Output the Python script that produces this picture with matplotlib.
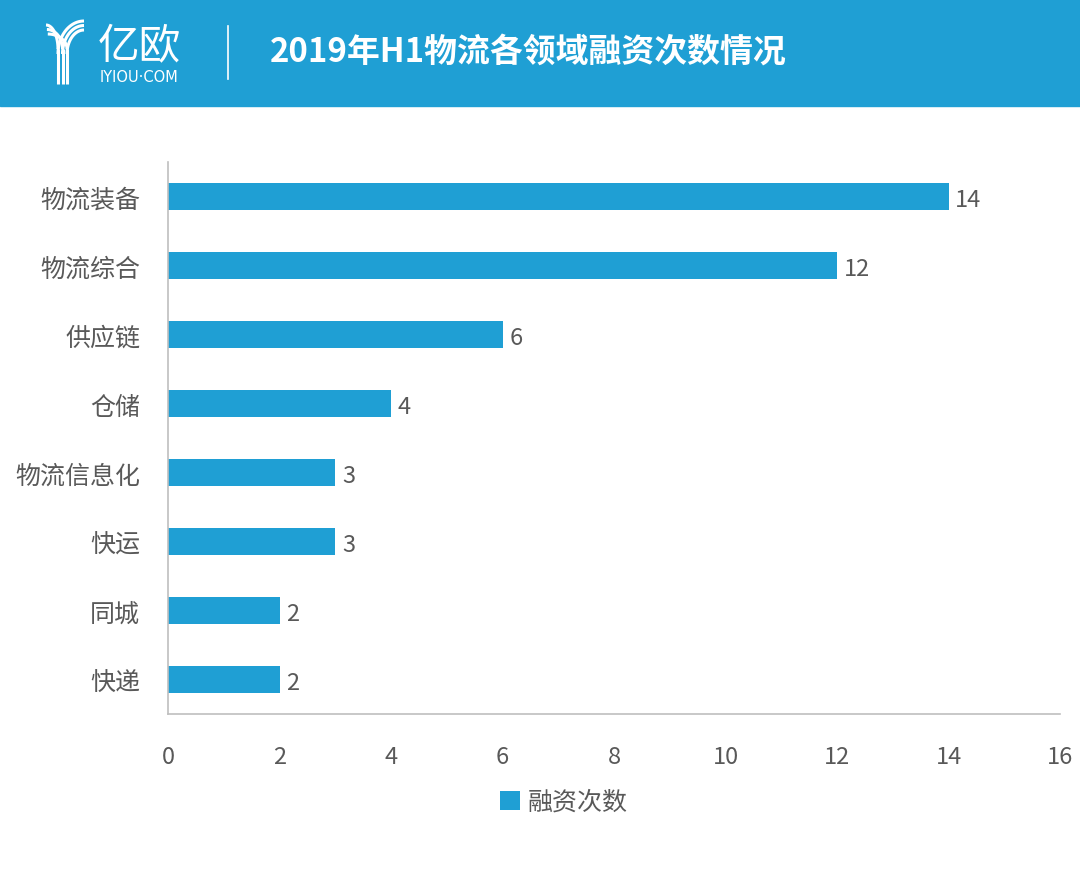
# -*- coding: utf-8 -*-
import numpy as np
import matplotlib
matplotlib.use("Agg")
import matplotlib.pyplot as plt
from matplotlib.patches import Rectangle

plt.rcParams['font.family'] = ['Noto Sans CJK SC', 'DejaVu Sans']

# data
categories = ["物流装备", "物流综合", "供应链", "仓储", "物流信息化", "快运", "同城", "快递"]
counts = [14, 12, 6, 4, 3, 3, 2, 2]
xticks = [0, 2, 4, 6, 8, 10, 12, 14, 16]
title = "2019年H1物流各领域融资次数情况"
series_name = "融资次数"

blue = "#1f9fd4"
txt = "#595959"

W, H = 1080, 870
fig = plt.figure(figsize=(W / 100, H / 100), dpi=100)
fig.patch.set_facecolor("white")

# header band + logo, drawn in pixel coordinates
lax = fig.add_axes([0, 0, 1, 1], facecolor="none")
lax.set_xlim(0, W)
lax.set_ylim(H, 0)
lax.axis("off")
lax.add_patch(Rectangle((0, 0), W, 107, color=blue, zorder=0))
t = np.linspace(0, 1, 30)
for k in range(3):
    off = k * 4.5
    # left arms curving into the stem
    x0, y0 = 46 + off * 0.2, 26 + off
    xs = x0 + (58 + off - x0) * np.sin(t * np.pi / 2)
    ys = y0 + (50 - y0) * (1 - np.cos(t * np.pi / 2))
    lax.plot(xs, ys, color="white", lw=2.2, solid_capstyle="butt")
    lax.plot([58 + off, 58 + off], [50, 85], color="white", lw=2.2, solid_capstyle="butt")
    # right arms
    x1, y1 = 84, 22 + off
    xs = x1 - (x1 - (58 + off)) * np.sin(t * np.pi / 2)
    ys = y1 + (55 - y1) * (1 - np.cos(t * np.pi / 2))
    lax.plot(xs, ys, color="white", lw=2.2, solid_capstyle="butt")
lax.text(98, 48, "亿欧", color="white", fontsize=30, va="center", ha="left",
         fontweight="light")
lax.text(100, 77, "IYIOU·COM", color="white", fontsize=10.5, va="center", ha="left",
         family=["DejaVu Sans"])
lax.plot([228, 228], [27, 80], color="white", lw=1.2)
lax.text(270, 52, title, color="white", fontsize=23.7, fontweight="heavy",
         va="center", ha="left")

# main chart
ax = fig.add_axes([168 / W, 1 - 715 / H, (1060 - 168) / W, (715 - 163) / H])
y = np.arange(len(categories))
ax.barh(y, counts, height=0.4, color=blue, label=series_name, zorder=2)
for yi, v in zip(y, counts):
    ax.text(v + 0.12, yi + 0.04, str(v), va="center", ha="left", fontsize=17, color=txt)

ax.set_ylim(len(categories) - 0.5, -0.5)
ax.set_xlim(0, 16)
ax.set_xticks(xticks)
ax.set_xticklabels([str(v) for v in xticks], fontsize=17, color=txt)
ax.set_yticks(y)
ax.set_yticklabels(categories, fontsize=18, color=txt)
ax.tick_params(axis="both", length=0)
ax.tick_params(axis="x", pad=22)
ax.tick_params(axis="y", pad=20)
for s in ["top", "right"]:
    ax.spines[s].set_visible(False)
for s in ["left", "bottom"]:
    ax.spines[s].set_color("#bfbfbf")
    ax.spines[s].set_linewidth(1.2)

leg = ax.legend(loc="upper center", bbox_to_anchor=(0.444, -0.095), frameon=False,
                prop={"size": 18}, handlelength=0.8, handleheight=0.8, handletextpad=0.3)
for tx in leg.get_texts():
    tx.set_color(txt)

fig.savefig("out.png", dpi=100)
